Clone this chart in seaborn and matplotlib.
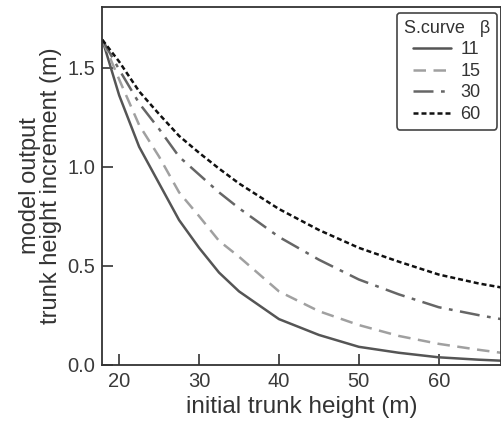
import pandas as pd
import matplotlib
matplotlib.use("Agg")
import matplotlib.pyplot as plt
import seaborn as sns

# values (initial trunk height in m)
height = [17.9, 20, 22.5, 25, 27.5, 30, 32.5, 35, 40, 45, 50, 55, 60, 65, 67.8]
beta_labels = ["11", "15", "30", "60"]
inc_11 = [1.64, 1.36, 1.10, 0.915, 0.73, 0.59, 0.465, 0.37, 0.23, 0.15, 0.09, 0.06, 0.037, 0.025, 0.02]
inc_15 = [1.64, 1.44, 1.21, 1.05, 0.87, 0.75, 0.625, 0.545, 0.37, 0.27, 0.20, 0.145, 0.105, 0.075, 0.06]
inc_30 = [1.64, 1.49, 1.32, 1.19, 1.05, 0.96, 0.87, 0.79, 0.645, 0.53, 0.43, 0.355, 0.29, 0.25, 0.23]
inc_60 = [1.64, 1.53, 1.38, 1.265, 1.155, 1.07, 0.99, 0.915, 0.786, 0.68, 0.59, 0.52, 0.455, 0.41, 0.39]

rows = []
for lab, vals in zip(beta_labels, [inc_11, inc_15, inc_30, inc_60]):
    for h, v in zip(height, vals):
        rows.append({"height": h, "increment": v, "beta": lab})
df = pd.DataFrame(rows)

sns.set_style("ticks")
plt.rcParams["font.family"] = ["Liberation Sans", "DejaVu Sans"]

styles = {
    "11": dict(color="#555555", linestyle="-"),
    "15": dict(color="#a0a0a0", linestyle=(0, (5, 3))),
    "30": dict(color="#666666", linestyle=(0, (8, 3, 1.5, 3))),
    "60": dict(color="#111111", linestyle=(0, (2, 1.2))),
}

fig = plt.figure(figsize=(5.02, 4.24), dpi=100)
ax = fig.add_axes([0.204, 0.140, 0.794, 0.843])

for lab in beta_labels:
    sub = df[df["beta"] == lab]
    sns.lineplot(data=sub, x="height", y="increment", ax=ax, label=lab,
                 linewidth=1.8, **styles[lab])

ax.set_xlim(17.9, 67.8)
ax.set_ylim(0, 1.805)
ax.set_xticks([20, 30, 40, 50, 60])
ax.set_yticks([0.0, 0.5, 1.0, 1.5])
ax.set_yticklabels(["0.0", "0.5", "1.0", "1.5"])
ax.tick_params(direction="in", length=8, width=1.2, labelsize=14.5,
               colors="#333333", labelcolor="#3a3a3a", pad=5)
for s in ax.spines.values():
    s.set_color("#333333")
    s.set_linewidth(1.3)

ax.set_xlabel("initial trunk height (m)", fontsize=17.5, color="#333333", labelpad=4)
ax.set_ylabel("model output\ntrunk height increment (m)", fontsize=17,
              color="#333333", labelpad=4, linespacing=0.95)

leg = ax.legend(title="S.curve   β", loc="upper right", fontsize=13,
                title_fontsize=13, handlelength=2.1, handletextpad=0.5,
                labelspacing=0.25, borderpad=0.4, fancybox=True,
                framealpha=1, edgecolor="#444444",
                bbox_to_anchor=(1.0, 0.995), borderaxespad=0.2)
leg.get_frame().set_linewidth(1.2)
for t in leg.get_texts():
    t.set_color("#333333")
leg.get_title().set_color("#333333")

fig.savefig("out.png", dpi=100)
